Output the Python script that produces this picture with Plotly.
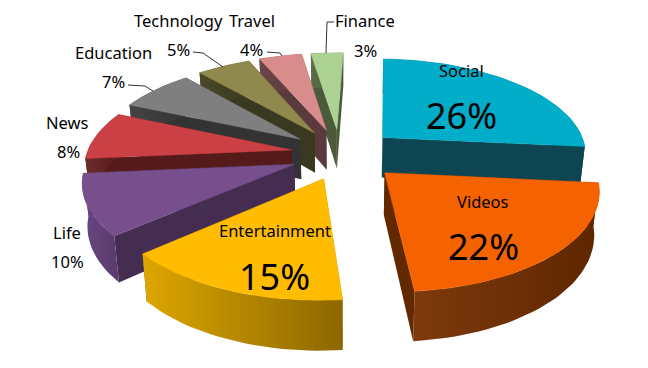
import math
import plotly.graph_objects as go

# --- data ---
categories = ["Social", "Videos", "Entertainment", "Life", "News", "Education", "Technology", "Travel", "Finance"]
percent = [26, 22, 15, 10, 8, 7, 5, 4, 3]

# --- styles ---
top_colors = ["#01ADC8", "#F46300", "#FFBC00", "#774F8C", "#CB4044", "#7F7F7F", "#8F894E", "#D98C8C", "#ADD193"]
wall_colors = ["#0D4652", "#622800", "#8C6700", "#452D52", "#551A1A", "#333333", "#3A3820", "#5A3A3C", "#4A5A3A"]
arc_left = ["#0D4652", "#7E3A0C", "#DDA600", "#6A4680", "#6E2A2A", "#444444", "#4A4828", "#6A4648", "#5A6E48"]
arc_right = ["#0D4652", "#5E2600", "#8C6700", "#5A3A6C", "#551A1A", "#333333", "#3A3820", "#5A3A3C", "#4A5A3A"]
draw_order = [8, 7, 6, 5, 4, 3, 0, 2, 1]
slice_nudge = [-1, 1.5, 2, 3, 3, 1, 0, -2, -3]

# --- projection settings ---
CX, CY, R, RS, K, EXPLODE, ROT, DEPTH, BOTTOM_SHRINK = 343, 154, 205, 95, 0.15, 0.27, 2.0, 41, 0.98


def project(x, y, bottom=False, nudge=0):
    p = 1 / (1 + K * y)
    sx = R * x * p
    sy = -RS * y * p
    if bottom:
        return CX + nudge + sx * BOTTOM_SHRINK, CY + sy + DEPTH * p
    return CX + nudge + sx, CY + sy


def polar(theta):
    t = math.radians(theta)
    return math.sin(t), math.cos(t)


slices = []
cum = 0.0
for v in percent:
    a0 = cum / sum(percent) * 360 + ROT
    a1 = (cum + v) / sum(percent) * 360 + ROT
    cum += v
    mx, my = polar((a0 + a1) / 2)
    ox, oy = mx * EXPLODE, my * EXPLODE
    n = max(6, int((a1 - a0) / 2))
    rim = []
    for j in range(n + 1):
        ux, uy = polar(a0 + (a1 - a0) * j / n)
        rim.append((ox + ux, oy + uy))
    slices.append(((ox, oy), rim))

fig = go.Figure()


def poly(pts, width=0, **kw):
    fig.add_trace(go.Scatter(
        x=[p[0] for p in pts] + [pts[0][0]], y=[p[1] for p in pts] + [pts[0][1]],
        mode="lines", fill="toself", line=dict(width=width, color=kw.pop("edge")),
        hoverinfo="skip", showlegend=False, **kw))


for i in draw_order:
    apex, rim = slices[i]
    nd = slice_nudge[i]
    for edge in (rim[0], rim[-1]):
        pts = [project(*apex, nudge=nd), project(*edge, nudge=nd),
               project(*edge, True, nd), project(*apex, True, nd)]
        poly(pts, fillcolor=wall_colors[i], edge=wall_colors[i])
    arc = [project(*q, nudge=nd) for q in rim] + [project(*q, True, nd) for q in reversed(rim)]
    poly(arc, edge=arc_right[i], fillgradient=dict(
        type="horizontal", colorscale=[[0, arc_left[i]], [1, arc_right[i]]]))
    top = [project(*apex, nudge=nd)] + [project(*q, nudge=nd) for q in rim]
    poly(top, width=0.5, fillcolor=top_colors[i], edge=top_colors[i])

FONT = "Noto Sans"
label_xy = [(461, 70.5), (483, 201.5), (275, 230.5), (67, 232.5), (67, 122.5), (113, 52.5), (178, 20.5), (252, 20.5), (365, 20.5)]
pct_xy = [(461, 115), (483, 246), (274, 276), (67, 261.5), (68, 151.5), (113, 81.5), (178, 49.5), (251, 49.5), (365, 50.5)]
big = {0, 1, 2}
for i, name in enumerate(categories):
    fig.add_annotation(x=label_xy[i][0], y=label_xy[i][1], text=name, showarrow=False,
                       font=dict(family=FONT, size=16.5, color="black"))
    fig.add_annotation(x=pct_xy[i][0], y=pct_xy[i][1], text=f"{percent[i]}%", showarrow=False,
                       font=dict(family=FONT, size=36 if i in big else 16.5, color="black"))

for path in ["M128 85 L145 86 L153 91", "M193 52 L203 53 L223 67", "M267 52 L280 53 L282 56", "M334 22 L327 22 L326 53"]:
    fig.add_shape(type="path", path=path, line=dict(color="#333333", width=1))

fig.update_layout(
    width=648, height=368, margin=dict(l=0, r=0, t=0, b=0),
    paper_bgcolor="white", plot_bgcolor="white", showlegend=False,
    xaxis=dict(range=[0, 648], visible=False, fixedrange=True),
    yaxis=dict(range=[368, 0], visible=False, fixedrange=True),
)
fig.write_html("out.html", config={"displayModeBar": False},
               post_script="document.body.style.margin='0';")
